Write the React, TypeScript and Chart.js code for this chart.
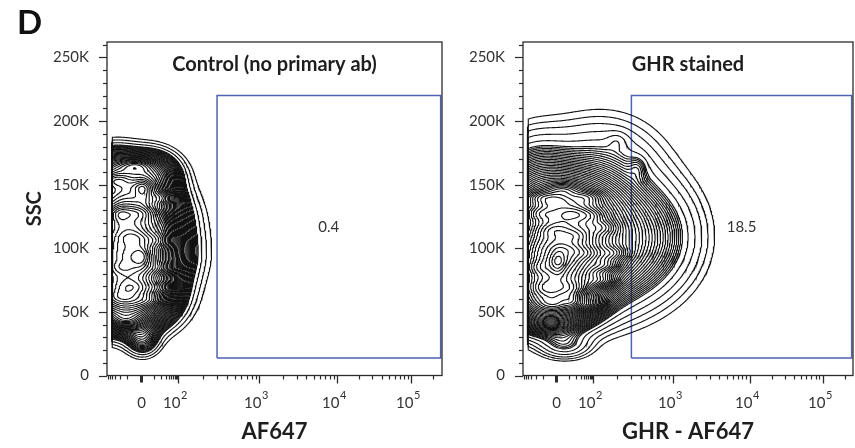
import React, { useEffect, useRef } from "react";
import { Chart, registerables } from "chart.js";

Chart.register(...registerables);

// ---------------- axes ----------------
const Y_MAX = 262144;
const Y_MAJOR_TICKS = [0, 50000, 100000, 150000, 200000, 250000];
const Y_MINOR_STEP = 10000;

// biexponential display scale (display units 0..1000)
const X_DISPLAY_MAX = 1000;
const X_ZERO_POS = 100;
const X_KNOT_VALUES = [10, 100, 1000, 10000, 100000];
const X_KNOT_POS = [140, 213, 455, 687, 908];
const X_MAJOR_VALUES = [0, 100, 1000, 10000, 100000];
const X_MAJOR_BASE = ["0", "10", "10", "10", "10"];
const X_MAJOR_EXP = ["", "2", "3", "4", "5"];
const X_MINOR_VALUES = [
  -60, -50, -40, -30, -20, -10, 10, 20, 30, 40, 50, 60, 70, 80, 90,
  200, 300, 400, 500, 600, 700, 800, 900,
  2000, 3000, 4000, 5000, 6000, 7000, 8000, 9000,
  20000, 30000, 40000, 50000, 60000, 70000, 80000, 90000, 200000,
];

// ---------------- panels ----------------
const PANEL_TITLES = ["Control (no primary ab)", "GHR stained"];
const X_TITLES = ["AF647", "GHR - AF647"];
const GATE_PERCENT = ["0.4", "18.5"];
const GATE_X_VALUES = [300, 250000];
const GATE_Y_VALUES = [13700, 220000];

// broad density components (display-x, SSC)
const CTRL_CX = [58, 63, 63, 22, 128, 99, 107, 101, 107, 39, 165];
const CTRL_CY = [62000, 94400, 125800, 158000, 157000, 102000, 27800, 92900, 145000, 125700, 114000];
const CTRL_SX = [72, 78, 76, 50, 50, 110, 30, 15, 15, 15, 24];
const CTRL_SY = [14000, 15700, 15700, 12000, 11000, 35000, 7800, 6300, 6300, 5000, 8000];
const CTRL_W = [1.0, 1.1, 0.85, 0.3, 0.3, 0.08, 0.1, 0.25, 0.15, 0.12, 0.12];

// local streaks inside the dense core
const CTRL_SPOT_X = [107, 104, 39, 98, 160, 78, 145, 39, 150, 78, 155, 39, 128, 54, 24, 84];
const CTRL_SPOT_Y = [147700, 93000, 127500, 127500, 139800, 108500, 106200, 85000, 85000, 69400, 69400, 61500, 59200, 43500, 153000, 165000];

const GHR_CX = [82, 97, 112, 36, 233, 400, 233, 279, 285, 348, 106, 148, 127];
const GHR_CY = [63000, 94400, 129700, 150000, 106000, 110000, 167000, 114000, 184500, 163400, 88900, 59000, 24000];
const GHR_SX = [76, 82, 91, 70, 106, 85, 106, 136, 21, 18, 15, 18, 45];
const GHR_SY = [14100, 15700, 17200, 22000, 27400, 25000, 22000, 35000, 4700, 6300, 6300, 4700, 6300];
const GHR_W = [1.0, 1.1, 0.7, 0.12, 0.35, 0.06, 0.055, 0.02, 0.02, 0.03, 0.35, 0.2, 0.06];

const GHR_SPOT_X = [112, 133, 91, 152, 52, 194, 242, 52, 194, 73, 152, 233, 52, 121, 273, 91, 194, 158, 203, 97, 248];
const GHR_SPOT_Y = [90500, 98400, 114000, 127400, 127400, 140000, 116400, 85000, 96000, 69400, 69400, 74800, 140000, 146000, 96000, 56000, 56000, 110000, 125800, 137500, 86600];

const SPOT_SX = 30;
const SPOT_SY = 3500;
const SPOT_W = 0.15;

// contour levels (fractions of the peak): a few wide outer levels, then a fine geometric ladder
const CTRL_OUTER_LEVELS = [0.012, 0.018, 0.026];
const GHR_OUTER_LEVELS = [0.005, 0.008, 0.012, 0.018, 0.026];
const LADDER_START = [0.035, 0.034];
const LEVEL_STEP = [0.92, 0.92];

const FONT = "Lato, 'Open Sans', sans-serif";

function biex(v: number): number {
  const s = Math.sign(v);
  const a = Math.abs(v);
  let p: number;
  if (a <= X_KNOT_VALUES[0]) {
    p = ((X_KNOT_POS[0] - X_ZERO_POS) * a) / X_KNOT_VALUES[0];
  } else {
    let k = 0;
    while (k < X_KNOT_VALUES.length - 2 && a >= X_KNOT_VALUES[k + 1]) k++;
    const span = X_KNOT_POS[k + 1] - X_KNOT_POS[k];
    const dec = Math.log10(X_KNOT_VALUES[k + 1] / X_KNOT_VALUES[k]);
    p = X_KNOT_POS[k] - X_ZERO_POS + (span / dec) * Math.log10(a / X_KNOT_VALUES[k]);
  }
  return X_ZERO_POS + s * p;
}

type Pt = { x: number; y: number };

function contourLines(g: Float64Array, nx: number, ny: number, xs: number[], ys: number[], L: number): Pt[][] {
  const H = (nx - 1) * ny;
  const E = H + nx * (ny - 1);
  const segA: number[] = [];
  const segB: number[] = [];
  const add = (e1: number, e2: number) => {
    segA.push(e1);
    segB.push(e2);
  };
  for (let j = 0; j < ny - 1; j++) {
    for (let i = 0; i < nx - 1; i++) {
      const a = g[j * nx + i];
      const b = g[j * nx + i + 1];
      const c = g[(j + 1) * nx + i + 1];
      const d = g[(j + 1) * nx + i];
      const code = (a >= L ? 1 : 0) | (b >= L ? 2 : 0) | (c >= L ? 4 : 0) | (d >= L ? 8 : 0);
      if (code === 0 || code === 15) continue;
      const B = j * (nx - 1) + i;
      const T = (j + 1) * (nx - 1) + i;
      const Lf = H + j * nx + i;
      const R = H + j * nx + i + 1;
      const center = (a + b + c + d) / 4;
      switch (code) {
        case 1: add(Lf, B); break;
        case 2: add(B, R); break;
        case 3: add(Lf, R); break;
        case 4: add(R, T); break;
        case 5:
          if (center >= L) { add(B, R); add(T, Lf); } else { add(Lf, B); add(R, T); }
          break;
        case 6: add(B, T); break;
        case 7: add(Lf, T); break;
        case 8: add(T, Lf); break;
        case 9: add(B, T); break;
        case 10:
          if (center >= L) { add(Lf, B); add(R, T); } else { add(B, R); add(T, Lf); }
          break;
        case 11: add(R, T); break;
        case 12: add(Lf, R); break;
        case 13: add(B, R); break;
        case 14: add(Lf, B); break;
      }
    }
  }
  const n = segA.length;
  const adj = new Int32Array(E * 2).fill(-1);
  for (let s = 0; s < n; s++) {
    for (const e of [segA[s], segB[s]]) {
      if (adj[2 * e] < 0) adj[2 * e] = s;
      else adj[2 * e + 1] = s;
    }
  }
  const edgePoint = (id: number): Pt => {
    if (id < H) {
      const j = Math.floor(id / (nx - 1));
      const i = id % (nx - 1);
      const v0 = g[j * nx + i];
      const v1 = g[j * nx + i + 1];
      const t = (L - v0) / (v1 - v0);
      return { x: xs[i] + t * (xs[i + 1] - xs[i]), y: ys[j] };
    }
    const id2 = id - H;
    const j = Math.floor(id2 / nx);
    const i = id2 % nx;
    const v0 = g[j * nx + i];
    const v1 = g[(j + 1) * nx + i];
    const t = (L - v0) / (v1 - v0);
    return { x: xs[i], y: ys[j] + t * (ys[j + 1] - ys[j]) };
  };
  const used = new Uint8Array(n);
  const walk = (start: number, e0: number): number[] => {
    const out: number[] = [];
    let e = e0;
    let prev = start;
    for (;;) {
      const s = adj[2 * e] === prev ? adj[2 * e + 1] : adj[2 * e];
      if (s < 0 || used[s]) break;
      used[s] = 1;
      const ne = segA[s] === e ? segB[s] : segA[s];
      out.push(ne);
      e = ne;
      prev = s;
    }
    return out;
  };
  const lines: Pt[][] = [];
  for (let s0 = 0; s0 < n; s0++) {
    if (used[s0]) continue;
    used[s0] = 1;
    const fwd = walk(s0, segB[s0]);
    const back = walk(s0, segA[s0]);
    const edges = back.reverse().concat([segA[s0], segB[s0]], fwd);
    if (edges.length > 3) lines.push(edges.map(edgePoint));
  }
  return lines;
}

function buildContours(
  cx: number[], cy: number[], sx: number[], sy: number[], w: number[],
  spotX: number[], spotY: number[], outer: number[], ladderStart: number, step: number,
): Pt[][] {
  const nx = 301;
  const ny = 301;
  const xs: number[] = [];
  const ys: number[] = [];
  for (let i = 0; i < nx; i++) xs.push((i * X_DISPLAY_MAX) / (nx - 1));
  for (let j = 0; j < ny; j++) ys.push((j * Y_MAX) / (ny - 1));
  const ax = cx.concat(spotX);
  const ay = cy.concat(spotY);
  const asx = sx.concat(spotX.map(() => SPOT_SX));
  const asy = sy.concat(spotX.map(() => SPOT_SY));
  const aw = w.concat(spotX.map(() => SPOT_W));
  const g = new Float64Array(nx * ny);
  let M = 0;
  for (let j = 0; j < ny; j++) {
    for (let i = 0; i < nx; i++) {
      if (xs[i] < 14 || i === nx - 1 || j === 0 || j === ny - 1) continue;
      let v = 0;
      for (let k = 0; k < ax.length; k++) {
        const dx = (xs[i] - ax[k]) / asx[k];
        const dy = (ys[j] - ay[k]) / asy[k];
        v += aw[k] * Math.exp(-0.5 * (dx * dx + dy * dy));
      }
      g[j * nx + i] = v;
      if (v > M) M = v;
    }
  }
  const fracs = [...outer];
  for (let f = ladderStart; f < 0.97; f /= step) fracs.push(f);
  const out: Pt[][] = [];
  for (const fr of fracs) out.push(...contourLines(g, nx, ny, xs, ys, fr * M));
  return out;
}

const decorPlugin = {
  id: "decor",
  afterDraw(chart: any, _args: any, opts: any) {
    const { ctx, chartArea: ca, scales } = chart;
    const x = scales.x;
    const y = scales.y;
    ctx.save();
    ctx.strokeStyle = "#2b2b2b";
    ctx.lineWidth = 1.3;
    ctx.strokeRect(ca.left, ca.top, ca.right - ca.left, ca.bottom - ca.top);
    ctx.lineWidth = 1.2;
    for (let v = 0; v <= Y_MAX; v += Y_MINOR_STEP) {
      const py = Math.round(y.getPixelForValue(v)) + 0.5;
      const major = Y_MAJOR_TICKS.includes(v);
      ctx.beginPath();
      ctx.moveTo(ca.left, py);
      ctx.lineTo(ca.left - (major ? 8 : 4), py);
      ctx.stroke();
    }
    for (const v of X_MINOR_VALUES) {
      const d = biex(v);
      if (d < 0 || d > X_DISPLAY_MAX) continue;
      const px = Math.round(x.getPixelForValue(d)) + 0.5;
      ctx.beginPath();
      ctx.moveTo(px, ca.bottom);
      ctx.lineTo(px, ca.bottom + 4);
      ctx.stroke();
    }
    X_MAJOR_VALUES.forEach((v, i) => {
      const px = Math.round(x.getPixelForValue(biex(v))) + 0.5;
      ctx.lineWidth = v === 0 ? 3 : 1.3;
      ctx.beginPath();
      ctx.moveTo(px, ca.bottom);
      ctx.lineTo(px, ca.bottom + (v === 0 ? 7 : 8));
      ctx.stroke();
      ctx.fillStyle = "#333";
      ctx.textBaseline = "alphabetic";
      if (X_MAJOR_EXP[i] === "") {
        ctx.font = `15px ${FONT}`;
        ctx.textAlign = "center";
        ctx.fillText(X_MAJOR_BASE[i], px, ca.bottom + 32);
      } else {
        ctx.font = `15px ${FONT}`;
        ctx.textAlign = "right";
        ctx.fillText(X_MAJOR_BASE[i], px + 2, ca.bottom + 32);
        ctx.font = `11px ${FONT}`;
        ctx.textAlign = "left";
        ctx.fillText(X_MAJOR_EXP[i], px + 2.5, ca.bottom + 23);
      }
    });
    ctx.fillStyle = "#1e1e1e";
    ctx.font = `bold 20px ${FONT}`;
    ctx.textAlign = "center";
    ctx.fillText(opts.title, (ca.left + ca.right) / 2, ca.top + 29);
    ctx.fillStyle = "#333";
    ctx.font = `15px ${FONT}`;
    ctx.textBaseline = "middle";
    ctx.fillText(opts.percent, x.getPixelForValue(opts.labelX), y.getPixelForValue(opts.labelY));
    if (opts.letter) {
      ctx.fillStyle = "#111";
      ctx.font = `bold 33px ${FONT}`;
      ctx.textAlign = "left";
      ctx.textBaseline = "alphabetic";
      ctx.fillText(opts.letter, 17, 34);
    }
    ctx.restore();
  },
};

function Panel({ idx, left, width, axisWidth, padRight }: { idx: number; left: number; width: number; axisWidth: number; padRight: number }) {
  const ref = useRef<HTMLCanvasElement | null>(null);
  useEffect(() => {
    if (!ref.current) return;
    const lines = idx === 0
      ? buildContours(CTRL_CX, CTRL_CY, CTRL_SX, CTRL_SY, CTRL_W, CTRL_SPOT_X, CTRL_SPOT_Y, CTRL_OUTER_LEVELS, LADDER_START[0], LEVEL_STEP[0])
      : buildContours(GHR_CX, GHR_CY, GHR_SX, GHR_SY, GHR_W, GHR_SPOT_X, GHR_SPOT_Y, GHR_OUTER_LEVELS, LADDER_START[1], LEVEL_STEP[1]);
    const gx0 = biex(GATE_X_VALUES[0]);
    const gx1 = biex(GATE_X_VALUES[1]);
    const datasets: any[] = lines.map((pts) => ({
      data: pts,
      showLine: true,
      borderColor: "#121212",
      borderWidth: 1.1,
      pointRadius: 0,
      fill: false,
      tension: 0,
    }));
    datasets.push({
      data: [
        { x: gx0, y: GATE_Y_VALUES[0] },
        { x: gx1, y: GATE_Y_VALUES[0] },
        { x: gx1, y: GATE_Y_VALUES[1] },
        { x: gx0, y: GATE_Y_VALUES[1] },
        { x: gx0, y: GATE_Y_VALUES[0] },
      ],
      showLine: true,
      borderColor: "#4d62b3",
      borderWidth: 1.5,
      pointRadius: 0,
      fill: false,
      tension: 0,
    });
    const chart = new Chart(ref.current, {
      type: "scatter",
      data: { datasets },
      options: {
        responsive: false,
        animation: false,
        events: [],
        parsing: false,
        normalized: true,
        layout: { padding: { top: 42, right: padRight, left: 0, bottom: 0 } },
        plugins: {
          legend: { display: false },
          tooltip: { enabled: false },
          decor: {
            title: PANEL_TITLES[idx],
            percent: GATE_PERCENT[idx],
            labelX: (gx0 + gx1) / 2,
            labelY: (GATE_Y_VALUES[0] + GATE_Y_VALUES[1]) / 2,
            letter: idx === 0 ? "D" : "",
          },
        } as any,
        scales: {
          x: {
            type: "linear",
            min: 0,
            max: X_DISPLAY_MAX,
            grid: { display: false },
            border: { display: false },
            ticks: { display: false },
            afterFit: (s: any) => {
              s.height = 72.5;
            },
            title: {
              display: true,
              text: X_TITLES[idx],
              color: "#1e1e1e",
              font: { family: FONT, size: 22, weight: "bold", lineHeight: 1 },
              padding: { top: 0, bottom: 5 },
            },
          },
          y: {
            type: "linear",
            min: 0,
            max: Y_MAX,
            afterBuildTicks: (s: any) => {
              s.ticks = Y_MAJOR_TICKS.map((value) => ({ value }));
            },
            afterFit: (s: any) => {
              s.width = axisWidth;
            },
            grid: { display: true, drawOnChartArea: false, drawTicks: true, tickLength: 8, tickColor: "rgba(0,0,0,0)" },
            border: { display: false },
            ticks: {
              autoSkip: false,
              padding: 10,
              color: "#333",
              font: { family: FONT, size: 15 },
              callback: (v: any) => (v === 0 ? "0" : `${v / 1000}K`),
            },
            title: {
              display: idx === 0,
              text: "SSC",
              color: "#1e1e1e",
              font: { family: FONT, size: 20, weight: "bold", lineHeight: 1 },
              padding: { top: 25, bottom: 0 },
            },
          },
        },
      } as any,
      plugins: [decorPlugin],
    });
    return () => chart.destroy();
  }, [idx, axisWidth, padRight]);
  return (
    <canvas
      ref={ref}
      width={width}
      height={448}
      style={{ position: "absolute", left, top: 0, width, height: 448 }}
    />
  );
}

export default function App() {
  return (
    <div style={{ position: "fixed", left: 0, top: 0, width: 855, height: 448, background: "#fff", overflow: "hidden" }}>
      <Panel idx={0} left={0} width={450} axisWidth={107} padRight={8} />
      <Panel idx={1} left={450} width={405} axisWidth={73} padRight={2} />
    </div>
  );
}
